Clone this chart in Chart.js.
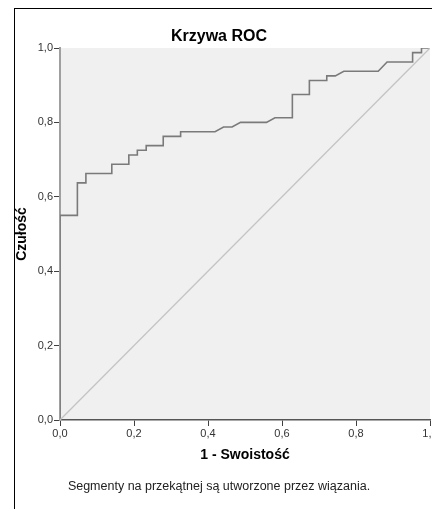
<!DOCTYPE html>
<html>
<head>
<meta charset="utf-8">
<script src="https://cdn.jsdelivr.net/npm/chart.js@4"></script>
<style>
  html, body { margin: 0; padding: 0; background: #fff; overflow: hidden; }
  #wrap { width: 480px; height: 509px; }
</style>
</head>
<body>
<div id="wrap"><canvas id="rocChart" width="480" height="509"></canvas></div>
<script>
// dane
var fpr = [0, 0, 0.047, 0.047, 0.07, 0.07, 0.14, 0.14, 0.186, 0.186, 0.209, 0.209, 0.233, 0.233, 0.279, 0.279,
    0.326, 0.326, 0.419, 0.442, 0.465, 0.488, 0.558, 0.581, 0.628, 0.628, 0.674, 0.674, 0.721, 0.721,
    0.744, 0.767, 0.86, 0.884, 0.953, 0.953, 0.977, 0.977, 1];
var tpr = [0, 0.55, 0.55, 0.6375, 0.6375, 0.6625, 0.6625, 0.6875, 0.6875, 0.7125, 0.7125, 0.725, 0.725, 0.7375, 0.7375, 0.7625,
    0.7625, 0.775, 0.775, 0.7875, 0.7875, 0.8, 0.8, 0.8125, 0.8125, 0.875, 0.875, 0.9125, 0.9125, 0.925,
    0.925, 0.9375, 0.9375, 0.9625, 0.9625, 0.9875, 0.9875, 1, 1];
var diagX = [0, 1];
var diagY = [0, 1];
var tickValues = [0, 0.2, 0.4, 0.6, 0.8, 1.0];

var tytul = 'Krzywa ROC';
var tytulX = '1 - Swoistość';
var tytulY = 'Czułość';
var przypis = 'Segmenty na przekątnej są utworzone przez wiązania.';

function toPoints(xs, ys) {
    return xs.map(function(x, i) { return { x: x, y: ys[i] }; });
}

function fmt(v) {
    return Number(v).toFixed(1).replace('.', ',');
}

// tło, ramka i napisy
var decorPlugin = {
    id: 'decor',
    beforeDraw: function(chart) {
        var ctx = chart.ctx;
        var a = chart.chartArea;
        ctx.save();
        ctx.fillStyle = '#f0f0f0';
        ctx.fillRect(a.left, a.top, a.right - a.left, a.bottom - a.top);
        ctx.strokeStyle = '#000';
        ctx.lineWidth = 1;
        ctx.strokeRect(14.5, 8.5, 1000, 1000);
        ctx.restore();
    },
    afterDraw: function(chart) {
        var ctx = chart.ctx;
        var a = chart.chartArea;
        ctx.save();
        ctx.fillStyle = '#000';
        ctx.textAlign = 'center';
        ctx.textBaseline = 'middle';
        ctx.font = 'bold 16px "Liberation Sans", Arial, sans-serif';
        ctx.fillText(tytul, 219, 37);
        ctx.font = 'bold 14px "Liberation Sans", Arial, sans-serif';
        ctx.fillText(tytulX, (a.left + a.right) / 2, 455);
        ctx.fillStyle = '#222';
        ctx.font = '12.5px "Liberation Sans", Arial, sans-serif';
        ctx.fillText(przypis, 219, 487);
        ctx.fillStyle = '#000';
        ctx.translate(22, (a.top + a.bottom) / 2);
        ctx.rotate(-Math.PI / 2);
        ctx.font = 'bold 14px "Liberation Sans", Arial, sans-serif';
        ctx.fillText(tytulY, 0, 0);
        ctx.restore();
    }
};

var ctx = document.getElementById('rocChart').getContext('2d');
var chart = new Chart(ctx, {
    type: 'scatter',
    data: {
        datasets: [{
            label: 'Linia odniesienia',
            data: toPoints(diagX, diagY),
            showLine: true,
            borderColor: '#c4c4c4',
            borderWidth: 1.3,
            pointRadius: 0
        }, {
            label: 'ROC',
            data: toPoints(fpr, tpr),
            showLine: true,
            borderColor: '#7a7a7a',
            borderWidth: 1.6,
            pointRadius: 0
        }]
    },
    options: {
        responsive: false,
        animation: false,
        events: [],
        layout: { padding: { left: 0, top: 48, right: 50, bottom: 0 } },
        plugins: {
            legend: { display: false },
            tooltip: { enabled: false }
        },
        scales: {
            x: {
                type: 'linear',
                min: 0,
                max: 1,
                afterFit: function(s) { s.height = 89; },
                afterBuildTicks: function(s) { s.ticks = tickValues.map(function(v) { return { value: v }; }); },
                border: { display: true, color: '#555', width: 1.5 },
                grid: { drawOnChartArea: false, drawTicks: true, tickLength: 6, color: '#404040' },
                ticks: {
                    padding: 1,
                    color: '#333',
                    font: { family: '"Liberation Sans", Arial, sans-serif', size: 11 },
                    maxRotation: 0,
                    callback: fmt
                }
            },
            y: {
                type: 'linear',
                min: 0,
                max: 1,
                afterFit: function(s) { s.width = 60; },
                afterBuildTicks: function(s) { s.ticks = tickValues.map(function(v) { return { value: v }; }); },
                border: { display: true, color: '#a0a0a0', width: 2 },
                grid: { drawOnChartArea: false, drawTicks: true, tickLength: 6, color: '#404040' },
                ticks: {
                    padding: 1,
                    color: '#333',
                    font: { family: '"Liberation Sans", Arial, sans-serif', size: 11 },
                    callback: fmt
                }
            }
        }
    },
    plugins: [decorPlugin]
});
</script>
</body>
</html>
